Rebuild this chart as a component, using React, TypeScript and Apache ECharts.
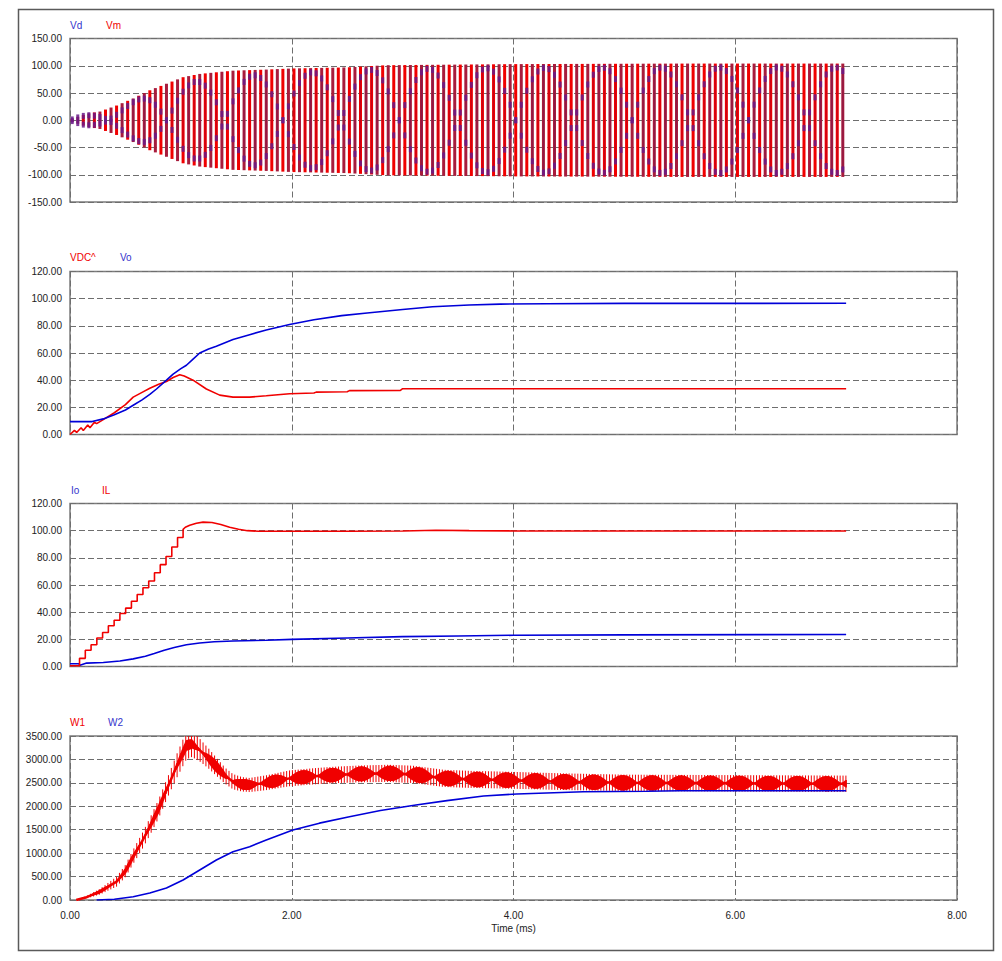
import React, { useEffect, useRef } from 'react';
import * as echarts from 'echarts';

// ---------- axis ticks ----------
const timeTicks = [0, 2, 4, 6, 8];
const yRanges = [
  { min: -150, max: 150, interval: 50 },
  { min: 0, max: 120, interval: 20 },
  { min: 0, max: 120, interval: 20 },
  { min: 0, max: 3500, interval: 500 },
];

// ---------- panel 1: Vd / Vm (envelopes) ----------
const vmEnvT = [0, 0.05, 0.15, 0.27, 0.42, 0.57, 0.72, 0.87, 1.02, 1.17, 1.32, 1.47, 1.77, 2.0, 2.5, 2.85, 4.0, 5.5, 7.0];
const vmEnvV = [1, 5, 12, 16, 27, 40, 55, 67, 79, 85, 88, 91, 93, 95, 97, 101, 103, 104, 104];
const vdEnvV = [0, 4, 10, 14, 23, 34, 47, 57, 67, 72, 76, 80, 84, 87, 90, 94, 96, 97, 97];
const VM_FIRST = 0.02;
const VM_SPACING = 0.05; // switching period (ms)
const VM_END = 7.0;
const VD_NODE0 = 0.345; // first node of Vd beat (ms)
const VD_HALF = 0.525; // half beat period (ms)

// ---------- panel 2: VDC^ / Vo ----------
const vdcT = [0, 0.04, 0.06, 0.1, 0.12, 0.16, 0.18, 0.22, 0.24, 0.3, 0.4, 0.5, 0.57, 0.65, 0.72, 0.8, 0.87, 0.93, 0.99, 1.03, 1.11, 1.23, 1.35, 1.47, 1.62, 1.77, 1.98, 2.2, 2.22, 2.5, 2.52, 2.98, 3.0, 7.0];
const vdcV = [0, 3, 1.5, 5, 3, 7, 5, 9, 8, 11, 16, 22, 27.5, 31, 34, 37, 39, 42, 44, 43, 40, 33.5, 29, 27.5, 27.5, 28.5, 30, 30.5, 31.2, 31.5, 32.3, 32.5, 33.7, 33.7];
const voT = [0, 0.2, 0.3, 0.4, 0.5, 0.57, 0.65, 0.72, 0.78, 0.87, 0.93, 1.0, 1.05, 1.11, 1.17, 1.25, 1.32, 1.47, 1.62, 1.77, 1.98, 2.2, 2.45, 2.68, 3.0, 3.27, 3.6, 3.88, 4.3, 5.0, 7.0];
const voV = [9.5, 9.5, 11.5, 14.5, 18, 21.5, 25.5, 29.5, 33.5, 40, 44.5, 48.5, 51, 55.5, 60, 63, 65, 70, 73.5, 77, 81, 84.5, 87.5, 89.5, 92, 94, 95.3, 96, 96.3, 96.5, 96.6];

// ---------- panel 3: Io / IL ----------
const ioT = [0, 0.08, 0.09, 0.15, 0.3, 0.45, 0.57, 0.68, 0.76, 0.85, 0.94, 1.05, 1.17, 1.3, 1.47, 1.77, 2.0, 2.5, 3.0, 3.5, 4.0, 5.0, 7.0];
const ioV = [2, 2, 1, 2.5, 3, 4, 5.6, 7.5, 9.6, 12, 14, 16, 17.3, 18.2, 18.8, 19.3, 20, 21, 22, 22.5, 23, 23.3, 23.6];
// staircase part (jump times / levels)
const ilStepT = [0, 0.086, 0.138, 0.19, 0.242, 0.294, 0.346, 0.398, 0.45, 0.502, 0.554, 0.606, 0.658, 0.71, 0.762, 0.814, 0.866, 0.918, 0.97, 1.02];
const ilStepV = [0.5, 6, 12, 16, 21, 25, 30, 34, 39, 43, 48, 53, 58, 63, 69, 75, 81, 88, 95, 101];
// smooth part after the staircase
const ilT = [1.04, 1.08, 1.14, 1.2, 1.28, 1.36, 1.44, 1.52, 1.6, 1.7, 2.0, 2.5, 3.0, 3.3, 3.6, 4.0, 7.0];
const ilV = [102.5, 104, 105.5, 106.3, 106, 104.5, 102.5, 101, 100, 99.6, 99.6, 99.6, 99.8, 100.3, 100, 99.8, 99.8];

// ---------- panel 4: W1 / W2 ----------
const w1T = [0.056, 0.15, 0.27, 0.42, 0.5, 0.57, 0.65, 0.72, 0.8, 0.87, 0.96, 1.05, 1.1, 1.17, 1.25, 1.32, 1.4, 1.47, 1.55, 1.62, 1.77, 1.98, 2.2, 2.37, 2.6, 2.87, 3.1, 3.37, 3.6, 3.9, 4.45, 5.0, 6.0, 7.0];
const w1Mean = [0, 60, 178, 391, 620, 924, 1250, 1564, 1950, 2347, 2845, 3300, 3330, 3200, 3020, 2845, 2650, 2525, 2470, 2454, 2503, 2596, 2640, 2667, 2690, 2703, 2680, 2596, 2575, 2560, 2525, 2500, 2490, 2480];
const w1RipT = [0.056, 0.3, 0.6, 0.9, 1.05, 1.2, 1.4, 1.6, 2.0, 3.0, 4.0, 5.0, 7.0];
const w1RipV = [0, 70, 160, 220, 300, 230, 170, 150, 170, 185, 180, 175, 175];
const w1BlobT = [0, 0.3, 1.0, 1.3, 1.5, 2.0, 3.0, 7.0];
const w1BlobV = [0, 40, 110, 120, 110, 145, 165, 160];
const W1_HATCH = 0.026;
const W1_BLOB_STEP = 0.005;
const W1_BLOB_C0 = 2.1;
const W1_BLOB_HALF = 0.2625;
const w2T = [0.24, 0.4, 0.57, 0.72, 0.87, 1.02, 1.17, 1.32, 1.47, 1.62, 1.77, 2.01, 2.25, 2.52, 2.8, 3.12, 3.4, 3.73, 4.03, 4.63, 5.2, 5.5, 6.0, 7.0];
const w2V = [0, 15, 70, 150, 255, 427, 640, 854, 1030, 1138, 1280, 1494, 1640, 1778, 1910, 2027, 2120, 2219, 2262, 2311, 2320, 2330, 2330, 2330];

const RED = '#f00000';
const BROWN = '#a81c3c';
const BLUE = '#0000d8';
const LEG_BLUE = '#3434cc';

function interp(ts: number[], vs: number[], t: number) {
  if (t <= ts[0]) return vs[0];
  for (let i = 1; i < ts.length; i++) {
    if (t <= ts[i]) {
      const f = (t - ts[i - 1]) / (ts[i] - ts[i - 1]);
      return vs[i - 1] + f * (vs[i] - vs[i - 1]);
    }
  }
  return vs[vs.length - 1];
}
const zip = (a: number[], b: number[]) => a.map((t, i) => [t, b[i]]);

export default function App() {
  const ref = useRef<HTMLDivElement>(null);
  useEffect(() => {
    if (!ref.current) return;
    const chart = echarts.init(ref.current, null, { renderer: 'svg' });

    const plotLeft = 70;
    const plotW = 887;
    const tops = [38.5, 271.5, 503.5, 736];
    const heights = [163.5, 163, 163, 164];

    const grids = tops.map((top, i) => ({
      left: plotLeft, top, width: plotW, height: heights[i], show: true,
      borderColor: '#7c7c7c', borderWidth: 1.5, backgroundColor: '#fff',
    }));
    const dashed = { show: true, lineStyle: { type: [6, 3] as any, color: '#6e6e6e', width: 1 } };
    const xAxes = tops.map((_, i) => ({
      type: 'value', gridIndex: i, min: timeTicks[0], max: timeTicks[timeTicks.length - 1], interval: 2,
      axisLine: { show: false }, axisTick: { show: false }, splitLine: dashed,
      axisLabel: { show: i === 3, formatter: (v: number) => v.toFixed(2), fontSize: 10, color: '#222', fontFamily: 'Liberation Sans', margin: 10 },
      name: i === 3 ? 'Time (ms)' : '', nameLocation: 'middle', nameGap: 23,
      nameTextStyle: { fontSize: 10, color: '#222', fontFamily: 'Liberation Sans' },
    }));
    const yAxes = yRanges.map((r, i) => ({
      type: 'value', gridIndex: i, min: r.min, max: r.max, interval: r.interval,
      axisLine: { show: false }, axisTick: { show: false }, splitLine: dashed,
      axisLabel: { formatter: (v: number) => v.toFixed(2), fontSize: 10, color: '#222', fontFamily: 'Liberation Sans', margin: 8 },
    }));

    // Vm stripes & Vd marks
    const vmData: number[][] = [];
    const vdData: number[][] = [];
    let k = 0;
    for (let t = VM_FIRST; t <= VM_END + 1e-9; t += VM_SPACING, k++) {
      const a = interp(vmEnvT, vmEnvV, t);
      vmData.push([t, -a, a, k % 2]);
      const d = interp(vmEnvT, vdEnvV, t) * Math.abs(Math.sin((Math.PI * (t - VD_NODE0)) / VD_HALF));
      vdData.push([t, -d, d]);
    }
    // IL: staircase + smooth tail
    const ilData: number[][] = [];
    for (let i = 0; i < ilStepT.length; i++) {
      if (i > 0) ilData.push([ilStepT[i], ilStepV[i - 1]]);
      ilData.push([ilStepT[i], ilStepV[i]]);
    }
    zip(ilT, ilV).forEach((p) => ilData.push(p));

    // W1 hatch & blobs
    const w1Hatch: number[][] = [];
    for (let t = w1T[0]; t <= VM_END + 1e-9; t += W1_HATCH) {
      const m = interp(w1T, w1Mean, t);
      const r = interp(w1RipT, w1RipV, t);
      w1Hatch.push([t, Math.max(0, m - r), Math.min(3500, m + r)]);
    }
    const w1Blob: number[][] = [];
    for (let t = 0.2; t <= VM_END + 1e-9; t += W1_BLOB_STEP) {
      const m = interp(w1T, w1Mean, t);
      const b = interp(w1BlobT, w1BlobV, t) * Math.abs(Math.cos((Math.PI * (t - W1_BLOB_C0)) / W1_BLOB_HALF));
      w1Blob.push([t, Math.max(0, m - b), Math.min(3500, m + b)]);
    }

    const vSeg = (colors: string[], width: number) => (params: any, api: any) => {
      const p1 = api.coord([api.value(0), api.value(1)]);
      const p2 = api.coord([api.value(0), api.value(2)]);
      const c = colors[(api.value(3) as number) || 0] || colors[0];
      return {
        type: 'line',
        shape: { x1: p1[0], y1: p1[1], x2: p2[0], y2: p2[1] },
        style: { stroke: c, lineWidth: width },
      };
    };
    const vdRender = (params: any, api: any) => {
      const p1 = api.coord([api.value(0), api.value(1)]);
      const p2 = api.coord([api.value(0), api.value(2)]);
      return {
        type: 'group',
        children: [
          { type: 'line', shape: { x1: p1[0], y1: p1[1], x2: p2[0], y2: p2[1] }, style: { stroke: '#40106a', lineWidth: 1, opacity: 0.25 } },
          { type: 'rect', shape: { x: p1[0] - 1.5, y: p1[1] - 3, width: 3, height: 6 }, style: { fill: '#6a1a88', opacity: 0.85 } },
          { type: 'rect', shape: { x: p2[0] - 1.5, y: p2[1] - 3, width: 3, height: 6 }, style: { fill: '#6a1a88', opacity: 0.85 } },
        ],
      };
    };

    const lineS = (name: string, data: number[][], idx: number, color: string, extra: any = {}) => ({
      name, type: 'line', data, xAxisIndex: idx, yAxisIndex: idx, showSymbol: false, symbol: 'none',
      lineStyle: { color, width: 1.6 }, itemStyle: { color }, silent: true, ...extra,
    });

    const legendText = (text: string, x: number, y: number, color: string) => ({
      type: 'text', left: x, top: y - 6,
      style: { text, fill: color, font: '10px "Liberation Sans"' },
    });

    chart.setOption({
      animation: false,
      backgroundColor: '#fff',
      grid: grids,
      xAxis: xAxes,
      yAxis: yAxes,
      series: [
        { name: 'Vm', type: 'custom', xAxisIndex: 0, yAxisIndex: 0, data: vmData, encode: { x: 0, y: [1, 2] }, renderItem: vSeg([RED, BROWN], 3), silent: true, z: 2 },
        { name: 'Vd', type: 'custom', xAxisIndex: 0, yAxisIndex: 0, data: vdData, encode: { x: 0, y: [1, 2] }, renderItem: vdRender, silent: true, z: 3 },
        lineS('VDC^', zip(vdcT, vdcV), 1, RED),
        lineS('Vo', zip(voT, voV), 1, BLUE),
        lineS('Io', zip(ioT, ioV), 2, BLUE),
        lineS('IL', ilData, 2, RED),
        lineS('W2', zip(w2T, w2V), 3, BLUE, { z: 4 }),
        lineS('W1', zip(w1T, w1Mean), 3, RED, { lineStyle: { color: RED, width: 2.5 }, z: 2 }),
        { name: 'W1 ripple', type: 'custom', xAxisIndex: 3, yAxisIndex: 3, data: w1Hatch, encode: { x: 0, y: [1, 2] }, renderItem: vSeg([RED], 1), silent: true, z: 2 },
        { name: 'W1 beat', type: 'custom', xAxisIndex: 3, yAxisIndex: 3, data: w1Blob, encode: { x: 0, y: [1, 2] }, renderItem: vSeg([RED], 1.4), silent: true, z: 2 },
      ],
      graphic: [
        { type: 'rect', left: 16, top: 7, shape: { width: 975, height: 941 }, style: { fill: 'none', stroke: '#5a5a5a', lineWidth: 1.5 }, silent: true, z: -10 },
        legendText('Vd', 70, 26, LEG_BLUE),
        legendText('Vm', 106, 26, RED),
        legendText('VDC^', 70, 258, RED),
        legendText('Vo', 120, 258, LEG_BLUE),
        legendText('Io', 71, 491, LEG_BLUE),
        legendText('IL', 102, 491, RED),
        legendText('W1', 70, 723, RED),
        legendText('W2', 108, 723, LEG_BLUE),
      ],
    });
    return () => chart.dispose();
  }, []);
  return <div ref={ref} style={{ position: 'absolute', left: 0, top: 0, width: 1002, height: 961 }} />;
}
